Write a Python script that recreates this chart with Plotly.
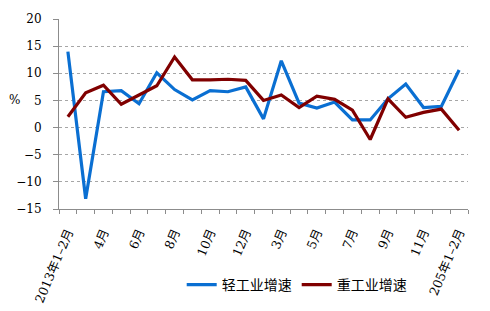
import plotly.graph_objects as go

categories = ["2013年1–2月", "3月", "4月", "5月", "6月", "7月", "8月", "9月", "10月", "11月", "12月",
              "2014年1–2月", "3月", "4月", "5月", "6月", "7月", "8月", "9月", "10月", "11月", "12月",
              "205年1–2月"]
light = [14.0, -13.1, 6.6, 6.8, 4.4, 10.1, 7.0, 5.1, 6.8, 6.6, 7.5,
         1.6, 12.3, 4.5, 3.6, 4.7, 1.4, 1.4, 5.3, 8.0, 3.7, 3.9, 10.6]
heavy = [2.0, 6.4, 7.8, 4.3, 6.0, 7.7, 13.0, 8.8, 8.8, 8.9, 8.7,
         5.0, 6.0, 3.7, 5.8, 5.2, 3.2, -2.2, 5.3, 1.9, 2.8, 3.4, -0.5]
names = ["轻工业增速", "重工业增速"]
colors = ["#0A6FD2", "#800000"]
yticks = [-15, -10, -5, 0, 5, 10, 15, 20]

idx = list(range(len(categories)))
font_fam = "DejaVu Serif, Noto Sans CJK SC, serif"

fig = go.Figure()
for vals, nm, c in zip([light, heavy], names, colors):
    fig.add_trace(go.Scatter(x=idx, y=vals, mode="lines", name=nm,
                             line=dict(color=c, width=3.2)))

show = idx[::2]
fig.update_layout(
    width=490, height=311,
    margin=dict(l=59, r=22, t=19, b=102, autoexpand=False),
    paper_bgcolor="white", plot_bgcolor="white",
    font=dict(family=font_fam, size=12, color="black"),
    showlegend=True,
    legend=dict(orientation="h", x=0.3, xanchor="left", y=-0.4, yanchor="middle",
                font=dict(size=14, family="Noto Sans CJK SC"), itemwidth=30,
                tracegroupgap=0, bgcolor="rgba(0,0,0,0)"),
    xaxis=dict(range=[-0.5, len(categories) - 0.5], tickmode="array",
               tickvals=show, ticktext=[categories[i] for i in show],
               tickangle=-67, ticks="", showgrid=False, zeroline=False,
               showline=True, linecolor="#8C8C8C", linewidth=1, automargin=False,
               tickfont=dict(size=12.5), ticklabelstandoff=10,
               minor=dict(tickmode="array",
                          tickvals=[i - 0.5 for i in range(len(categories) + 1)],
                          ticks="outside", ticklen=4, tickcolor="#8C8C8C", showgrid=False)),
    yaxis=dict(range=[-15, 20], tickmode="array", tickvals=yticks,
               ticks="outside", ticklen=5, tickcolor="#8C8C8C", automargin=False,
               showgrid=True, gridcolor="#A6A6A6", griddash="dot", gridwidth=1,
               zeroline=False, showline=True, linecolor="#8C8C8C", linewidth=1,
               tickfont=dict(size=12), ticklabelstandoff=9),
)
fig.add_annotation(text="%", xref="paper", yref="paper", x=-0.126, y=0.574,
                   showarrow=False, font=dict(size=12, family=font_fam))
fig.write_html("out.html")
